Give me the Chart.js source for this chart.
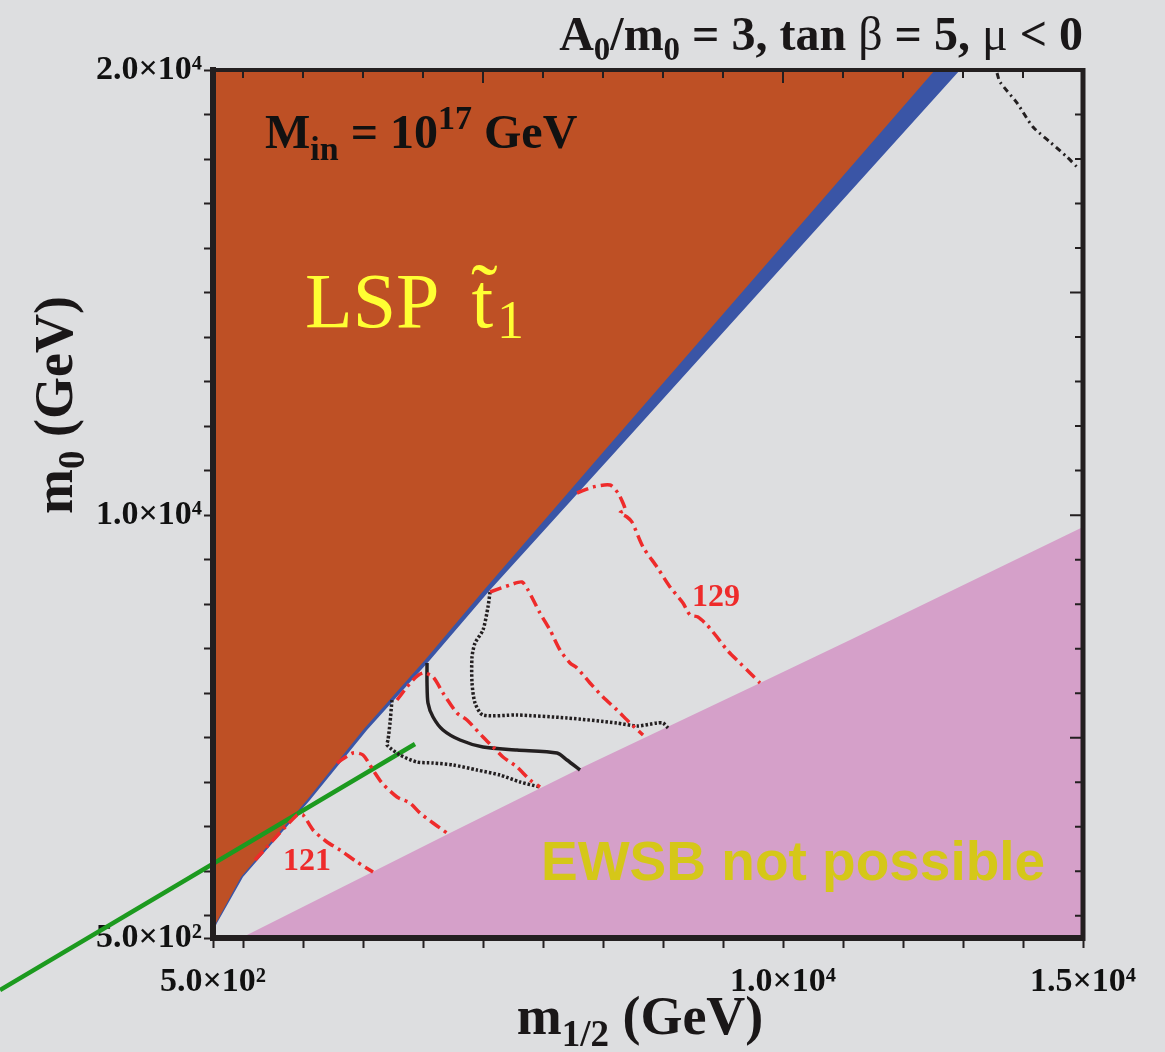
<!DOCTYPE html>
<html>
<head>
<meta charset="utf-8">
<script src="https://cdn.jsdelivr.net/npm/chart.js@4.4.0/dist/chart.umd.min.js"></script>
<style>
  html, body { margin: 0; padding: 0; background: #dddee0; }
  canvas { display: block; }
</style>
</head>
<body>
<canvas id="plane" width="1165" height="1052"></canvas>
<script>
// axis ticks
const xTickValues = [500, 1000, 2000, 3000, 4000, 5000, 6000, 7000, 8000, 9000, 10000, 11000, 12000, 13000, 14000, 15000];
const yTickValues = [500, 1000, 2000, 3000, 4000, 5000, 6000, 7000, 8000, 9000, 10000, 11000, 12000, 13000, 14000, 15000, 16000, 17000, 18000, 19000, 20000];
const xTickLabels = { 500: '5.0×10²', 10000: '1.0×10⁴', 15000: '1.5×10⁴' };
const yTickLabels = { 500: '5.0×10²', 10000: '1.0×10⁴', 20000: '2.0×10⁴' };
const xMajor = [5000, 10000, 15000];
const yMajor = [5000, 10000, 15000, 20000];

// stop LSP region edge and the blue strip next to it
const lspEdgeX = [500, 550, 967, 2067, 3000, 4033, 5017, 7033, 12533];
const lspEdgeY = [725, 837, 1870, 3600, 5173, 6746, 8318, 11463, 20000];
const stripEdgeX = [500, 567, 1000, 2117, 3067, 4117, 5117, 7233, 12950];
const stripEdgeY = [650, 837, 1870, 3600, 5173, 6746, 8318, 11463, 20000];

// EWSB boundary
const ewsbX = [967, 4450, 6667, 9617, 11117, 15000];
const ewsbY = [500, 2859, 4342, 6229, 7195, 9734];

// green line
const greenX = [-3050, 3867];
const greenY = [-668, 4858];

// Higgs mass contours (dash-dot red)
const mh121X = [1200, 1900, 2000, 2167, 2400, 2617, 2900, 3167];
const mh121Y = [2252, 3263, 3263, 2926, 2657, 2477, 2207, 1983];
const mh123X = [2567, 2833, 3000, 3167, 3317, 3567, 3783, 3950, 4167, 4400];
const mh123Y = [4432, 4656, 4611, 4274, 3982, 3668, 3533, 3308, 3084, 2859];
const mh125X = [3567, 3833, 4000, 4167, 4333, 4567, 4733, 5000, 5167, 5333, 5567, 5783, 5950];
const mh125Y = [5847, 6296, 6453, 6364, 6004, 5555, 5398, 5016, 4791, 4566, 4342, 4050, 3892];
const mh127X = [5117, 5450, 5650, 5750, 5950, 6117, 6283, 6450, 6567, 6783, 7000, 7233, 7450, 7667];
const mh127Y = [8273, 8431, 8498, 8318, 7801, 7420, 6970, 6678, 6566, 6229, 5914, 5622, 5330, 5061];
const mh129X = [6567, 6833, 7117, 7250, 7333, 7367, 7283, 7400, 7483, 7667, 7900, 8117, 8333, 8450, 8583, 8733, 8900, 9067, 9283, 9450, 9617];
const mh129Y = [10497, 10632, 10677, 10497, 10273, 10115, 10048, 9958, 9846, 9284, 8835, 8386, 8026, 7757, 7712, 7532, 7262, 6970, 6678, 6453, 6229];

// black contours
const solidX = [4067, 4067, 4083, 4167, 4333, 4617, 5000, 5567, 6233, 6400, 6617];
const solidY = [6678, 6229, 5780, 5465, 5173, 4948, 4791, 4724, 4656, 4499, 4274];
const dotInX = [3483, 3450, 3417, 3400, 3617, 3900, 4167, 4500, 4900, 5283, 5617, 5950];
const dotInY = [5847, 5330, 4948, 4836, 4611, 4454, 4432, 4387, 4274, 4162, 4005, 3892];
const dotOutX = [5117, 5083, 5000, 4867, 4817, 4817, 4867, 5000, 5567, 6400, 7233, 7567, 7900, 8000, 8083];
const dotOutY = [8273, 7936, 7420, 7127, 6813, 6229, 5780, 5510, 5510, 5443, 5330, 5263, 5330, 5330, 5218];
const dashDotX = [13567, 13617, 13900, 14167, 14450, 14733, 14900];
const dashDotY = [19933, 19731, 19259, 18720, 18383, 18046, 17821];

const pts = (xs, ys) => xs.map((x, i) => ({ x: x, y: ys[i] }));

const RED = '#ee2b2b';
const INK = '#231f20';
const SERIF = '"Liberation Serif", "Times New Roman", serif';

function contour(xs, ys, color, dash, width) {
  return {
    data: pts(xs, ys), borderColor: color, borderWidth: width, borderDash: dash,
    pointRadius: 0, fill: false, tension: 0.25
  };
}

// draw text made of pieces with different size / offset
function rich(ctx, x, y, parts, align) {
  let w = 0;
  parts.forEach(p => { ctx.font = p[1]; w += ctx.measureText(p[0]).width; });
  let cx = align === 'right' ? x - w : align === 'center' ? x - w / 2 : x;
  parts.forEach(p => {
    ctx.font = p[1];
    ctx.fillText(p[0], cx, y + (p[2] || 0));
    cx += ctx.measureText(p[0]).width;
  });
}

const labels = {
  id: 'labels',
  afterDatasetsDraw(chart) {
    const { ctx, scales: { x, y } } = chart;
    ctx.save();
    ctx.textBaseline = 'alphabetic';
    ctx.textAlign = 'left';

    ctx.fillStyle = '#111';
    rich(ctx, x.getPixelForValue(1367), y.getPixelForValue(18248), [
      ['M', 'bold 48px ' + SERIF], ['in', 'bold 34px ' + SERIF, 12],
      [' = 10', 'bold 48px ' + SERIF], ['17', 'bold 34px ' + SERIF, -19],
      [' GeV', 'bold 48px ' + SERIF]
    ], 'left');

    // LSP t~1
    ctx.fillStyle = '#ffff33';
    const lx = x.getPixelForValue(2033), ly = y.getPixelForValue(14227);
    ctx.font = '78px ' + SERIF;
    ctx.fillText('LSP', lx, ly);
    const tx = lx + ctx.measureText('LSP').width + 32;
    ctx.fillText('t', tx, ly);
    const tw = ctx.measureText('t').width;
    ctx.font = '54px ' + SERIF;
    ctx.fillText('1', tx + tw + 4, ly + 11);
    ctx.textAlign = 'center';
    ctx.font = '80px ' + SERIF;
    ctx.fillText('˜', tx + tw / 2 + 2, ly - 8);
    ctx.textAlign = 'left';

    ctx.fillStyle = '#d5c718';
    ctx.font = 'bold 55px "Liberation Sans", Arial, sans-serif';
    ctx.fillText('EWSB not possible', x.getPixelForValue(5967), y.getPixelForValue(1803));

    ctx.fillStyle = RED;
    ctx.font = 'bold 32px ' + SERIF;
    ctx.textAlign = 'center';
    ctx.fillText('129', x.getPixelForValue(8883), y.getPixelForValue(7959));
    ctx.fillText('121', x.getPixelForValue(2067), y.getPixelForValue(2028));
    ctx.restore();
  },
  afterDraw(chart) {
    const { ctx, chartArea: a, scales: { x, y } } = chart;
    ctx.save();
    ctx.strokeStyle = INK;
    // top and right frame with inward ticks
    ctx.lineWidth = 4;
    ctx.beginPath();
    ctx.moveTo(a.left - 3, a.top); ctx.lineTo(a.right + 2, a.top);
    ctx.stroke();
    ctx.lineWidth = 5;
    ctx.beginPath();
    ctx.moveTo(a.right, a.top - 2); ctx.lineTo(a.right, a.bottom + 3);
    ctx.stroke();
    ctx.lineWidth = 2;
    ctx.beginPath();
    xTickValues.forEach(v => {
      const px = x.getPixelForValue(v), len = xMajor.includes(v) ? 13 : 8;
      ctx.moveTo(px, a.top); ctx.lineTo(px, a.top + len);
    });
    yTickValues.forEach(v => {
      const py = y.getPixelForValue(v), len = yMajor.includes(v) ? 13 : 8;
      ctx.moveTo(a.right, py); ctx.lineTo(a.right - len, py);
    });
    ctx.stroke();

    // title and axis titles
    ctx.fillStyle = '#1a1718';
    ctx.textBaseline = 'alphabetic';
    const B = 'bold 48px ' + SERIF, S = 'bold 33px ' + SERIF, N = '48px ' + SERIF;
    rich(ctx, a.right, 50, [
      ['A', B], ['0', S, 10], ['/m', B], ['0', S, 10], [' = 3, tan ', B], ['β', N],
      [' = 5, ', B], ['μ', N], [' < 0', B]
    ], 'right');

    const TB = 'bold 54px ' + SERIF, TS = 'bold 37px ' + SERIF;
    rich(ctx, 640, 1034, [
      ['m', TB], ['1/2', TS, 12], [' (GeV)', TB]
    ], 'center');

    ctx.translate(72, 405);
    ctx.rotate(-Math.PI / 2);
    rich(ctx, 0, 0, [['m', TB], ['0', TS, 12], [' (GeV)', TB]], 'center');
    ctx.restore();
  }
};

const tickFont = { family: SERIF, size: 34, weight: 'bold' };

new Chart(document.getElementById('plane'), {
  type: 'line',
  data: {
    datasets: [
      contour(mh121X, mh121Y, RED, [12, 5, 3, 5], 3.5),
      contour(mh123X, mh123Y, RED, [12, 5, 3, 5], 3.5),
      contour(mh125X, mh125Y, RED, [12, 5, 3, 5], 3.5),
      contour(mh127X, mh127Y, RED, [12, 5, 3, 5], 3.5),
      contour(mh129X, mh129Y, RED, [12, 5, 3, 5], 3.5),
      contour(solidX, solidY, INK, [], 3.5),
      contour(dotInX, dotInY, INK, [2.5, 2], 3.5),
      contour(dotOutX, dotOutY, INK, [2.5, 2], 3.5),
      contour(dashDotX, dashDotY, INK, [6, 4, 2, 4], 3),
      { data: pts(greenX, greenY), borderColor: '#1c9a1f', borderWidth: 4.5, pointRadius: 0, fill: false, clip: false },
      { data: pts(lspEdgeX, lspEdgeY), borderWidth: 0, borderColor: 'rgba(0,0,0,0)', backgroundColor: '#be5025', pointRadius: 0, fill: 'end' },
      { data: pts(stripEdgeX, stripEdgeY), borderWidth: 0, borderColor: 'rgba(0,0,0,0)', backgroundColor: '#3a55a6', pointRadius: 0, fill: 'end' },
      { data: pts(ewsbX, ewsbY), borderWidth: 0, borderColor: 'rgba(0,0,0,0)', backgroundColor: '#d5a0c9', pointRadius: 0, fill: 'start' }
    ]
  },
  options: {
    responsive: false,
    animation: false,
    events: [],
    layout: { padding: { left: 0, right: 82, top: 70, bottom: 0 } },
    plugins: { legend: { display: false }, tooltip: { enabled: false } },
    scales: {
      x: {
        type: 'linear', min: 500, max: 15000,
        afterBuildTicks: s => { s.ticks = xTickValues.map(v => ({ value: v })); },
        afterFit: s => { s.height = 114; },
        border: { display: true, width: 6, color: INK, z: 1 },
        grid: { drawOnChartArea: false, drawTicks: true, tickLength: 10, tickWidth: 2, tickColor: INK },
        ticks: {
          autoSkip: false, maxRotation: 0, padding: 14, color: '#111', font: tickFont,
          callback: v => xTickLabels[v] || ''
        }
      },
      y: {
        type: 'linear', min: 500, max: 20000,
        afterBuildTicks: s => { s.ticks = yTickValues.map(v => ({ value: v })); },
        afterFit: s => { s.width = 213; },
        border: { display: true, width: 6, color: INK, z: 1 },
        grid: { drawOnChartArea: false, drawTicks: true, tickLength: 9, tickWidth: 2, tickColor: INK },
        ticks: {
          autoSkip: false, padding: 2, color: '#111', font: tickFont,
          callback: v => yTickLabels[v] || ''
        }
      }
    }
  },
  plugins: [labels]
});
</script>
</body>
</html>
